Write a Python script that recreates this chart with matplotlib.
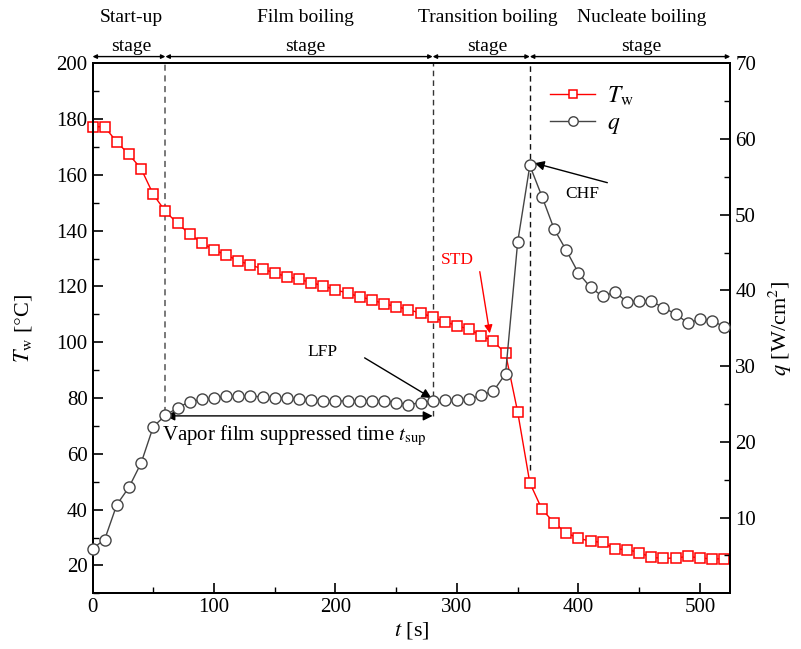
import matplotlib
matplotlib.use("Agg")
import matplotlib.pyplot as plt
from matplotlib.ticker import MultipleLocator

plt.rcParams["font.family"] = ["Liberation Serif", "DejaVu Serif"]
plt.rcParams["mathtext.fontset"] = "stix"

# time samples [s]
t = list(range(0, 530, 10))

# wall temperature [degC]
T_w = [177.3, 177.2, 171.8, 167.3, 162.2, 153.0, 146.9, 142.6, 138.8, 135.6,
       133.1, 131.3, 129.2, 127.7, 126.3, 124.8, 123.5, 122.6, 121.4, 120.2,
       118.8, 117.6, 116.3, 115.2, 113.8, 112.8, 111.7, 110.4, 109.1, 107.3,
       106.0, 104.6, 102.4, 100.3, 96.0, 75.0, 49.6, 40.1, 35.3, 31.6,
       29.8, 28.6, 28.3, 25.9, 25.7, 24.6, 22.9, 22.5, 22.7, 23.2,
       22.7, 22.3, 22.4]

# heat flux [W/cm2]
q = [5.9, 7.1, 11.7, 14.0, 17.2, 22.0, 23.5, 24.5, 25.3, 25.6,
     25.8, 26.0, 26.0, 26.1, 25.9, 25.8, 25.8, 25.6, 25.5, 25.4,
     25.4, 25.4, 25.4, 25.4, 25.4, 25.2, 24.9, 25.2, 25.4, 25.5,
     25.5, 25.6, 26.2, 26.7, 29.0, 46.4, 56.5, 52.4, 48.1, 45.3,
     42.3, 40.4, 39.2, 39.8, 38.5, 38.6, 38.6, 37.7, 36.9, 35.7,
     36.2, 36.0, 35.2]

stage_edges = [0, 60, 280, 360, 525]
stage_names = ["Start-up\nstage", "Film boiling\nstage",
               "Transition boiling\nstage", "Nucleate boiling\nstage"]
stage_label_x = [32, 175, 325, 452]

fig = plt.figure(figsize=(8.01, 6.49), dpi=100)
ax = fig.add_axes([0.1155, 0.0858, 0.7962, 0.8167])
ax2 = ax.twinx()

l1, = ax.plot(t, T_w, color="red", lw=1.0, marker="s", ms=7,
              mfc="white", mec="red", mew=1.1, label=r"$T_{\rm w}$",
              zorder=3, clip_on=False)
l2, = ax2.plot(t, q, color="#444444", lw=1.0, marker="o", ms=8,
               mfc="white", mec="#444444", mew=1.0, label=r"$q$",
               zorder=3, clip_on=False)

ax.set_xlim(0, 525)
ax.set_ylim(10, 200)
ax2.set_ylim(0, 70)

ax.xaxis.set_major_locator(MultipleLocator(100))
ax.xaxis.set_minor_locator(MultipleLocator(50))
ax.yaxis.set_major_locator(MultipleLocator(20))
ax.yaxis.set_minor_locator(MultipleLocator(10))

for a in (ax, ax2):
    a.tick_params(which="major", direction="in", length=7, width=1.2,
                  labelsize=15, top=False)
    a.tick_params(which="minor", direction="in", length=4, width=1.0, top=False)
    for s in a.spines.values():
        s.set_linewidth(1.4)
ax2.set_yticks([10, 20, 30, 40, 50, 60, 70])
ax2.set_yticks([5, 15, 25, 35, 45, 55, 65], minor=True)

ax.set_xlabel(r"$t$ [s]", fontsize=16, labelpad=2)
ax.set_ylabel(r"$T_{\rm w}$ [$\degree$C]", fontsize=16, labelpad=16)
ax2.set_ylabel(r"$q$ [W/cm$^2$]", fontsize=16, labelpad=8)

# stage boundaries
ax.plot([60, 60], [74.7, 200], ls=(0, (4, 3)), color="#555555", lw=1.1, zorder=1)
ax.plot([280, 280], [73.6, 200], ls=(0, (4, 3)), color="#333333", lw=1.0, zorder=1)
ax.plot([360, 360], [54.2, 200], ls=(0, (4, 3)), color="#111111", lw=1.0, zorder=1)

# stage arrows above the frame
ytop = 202.4
for i in range(4):
    ax.annotate("", xy=(stage_edges[i], ytop), xytext=(stage_edges[i + 1], ytop),
                arrowprops=dict(arrowstyle="<|-|>", color="black", lw=1.0,
                                mutation_scale=6, shrinkA=0, shrinkB=0),
                annotation_clip=False)
    ax.text(stage_label_x[i], 203.0, stage_names[i], ha="center", va="bottom",
            fontsize=14, linespacing=1.9, clip_on=False)

# vapor film suppressed time
ax.annotate("", xy=(60, 73.6), xytext=(280, 73.6),
            arrowprops=dict(arrowstyle="<|-|>", color="black", lw=1.0,
                            mutation_scale=14, shrinkA=0, shrinkB=0))
ax.text(57, 66.4, r"Vapor film suppressed time $t_{\rm sup}$", fontsize=15,
        ha="left", va="center")

# LFP, CHF, STD
ax.text(189.5, 96.5, "LFP", fontsize=12.5, ha="center", va="center")
ax.annotate("", xy=(279, 80.0), xytext=(224, 94.4),
            arrowprops=dict(arrowstyle="-|>", color="black", lw=1.0,
                            mutation_scale=14, shrinkA=0, shrinkB=0))
ax.text(403.5, 153.2, "CHF", fontsize=12.5, ha="center", va="center")
ax.annotate("", xy=(364, 164.2), xytext=(423.8, 157.2),
            arrowprops=dict(arrowstyle="-|>", color="black", lw=1.0,
                            mutation_scale=14, shrinkA=0, shrinkB=0))
ax.text(300.3, 129.5, "STD", fontsize=12.5, color="red", ha="center", va="center")
ax.annotate("", xy=(327, 103.2), xytext=(318.8, 125.3),
            arrowprops=dict(arrowstyle="-|>", color="red", lw=1.0,
                            mutation_scale=12, shrinkA=0, shrinkB=0))

ax.legend(handles=[l1, l2], loc="upper left", bbox_to_anchor=(0.703, 0.978),
          frameon=False, fontsize=17, handlelength=1.9, handletextpad=0.5,
          labelspacing=0.2, borderaxespad=0, markerscale=0.85)

fig.savefig("out.png", dpi=100)
